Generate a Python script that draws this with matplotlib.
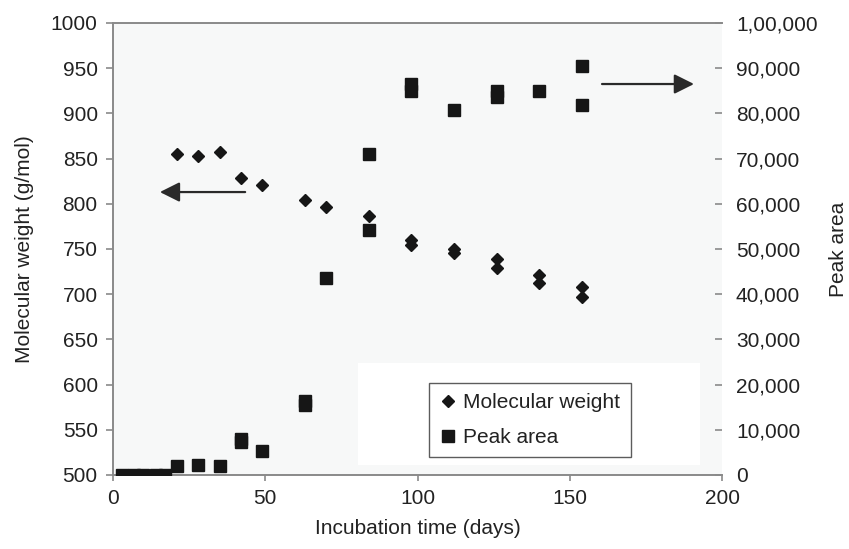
import matplotlib
matplotlib.use("Agg")
import matplotlib.pyplot as plt
from matplotlib.ticker import FuncFormatter, MultipleLocator
from matplotlib.patches import Rectangle

# ---- data ----
mw_days = [21, 28, 35, 42, 49, 63, 70, 84, 98, 98, 112, 112, 126, 126, 140, 140, 154, 154]
mw_vals = [855, 853, 857, 828, 821, 804, 797, 787, 760, 754, 750, 746, 739, 729, 721, 712, 708, 697]

pa_days = [3, 7, 10, 14, 17, 21, 28, 35, 42, 42, 49, 63, 63, 70, 84, 84,
           98, 98, 112, 126, 126, 140, 154, 154]
pa_vals = [0, 0, 0, 0, 0, 2000, 2200, 2000, 8000, 7200, 5400, 16300, 15500, 43600, 71000, 54200,
           86400, 85000, 80700, 85000, 83600, 85000, 90500, 81900]

x_label = "Incubation time (days)"
y_label_left = "Molecular weight (g/mol)"
y_label_right = "Peak area"
series_names = ["Molecular weight", "Peak area"]

plt.rcParams['font.family'] = ['Liberation Sans', 'DejaVu Sans']
FS = 15
TXT = '#222222'
SP = '#8a8a8a'

def indian_fmt(v, pos=None):
    n = int(round(v))
    s = str(abs(n))
    if len(s) > 3:
        head, tail = s[:-3], s[-3:]
        groups = []
        while len(head) > 2:
            groups.insert(0, head[-2:])
            head = head[:-2]
        if head:
            groups.insert(0, head)
        s = ",".join(groups + [tail])
    return ("-" if n < 0 else "") + s

fig = plt.figure(figsize=(8.49, 5.49), dpi=100)
ax = fig.add_axes([113/849, 1 - 475/549, 609/849, 452/549])
ax.set_facecolor('#f7f8f8')

# white patch behind legend
ax.add_patch(Rectangle(((358-113)/609, (475-465)/452), (700-358)/609, (465-363)/452,
                       transform=ax.transAxes, facecolor='white', edgecolor='none', zorder=0.5))

ax.set_xlim(0, 200)
ax.set_ylim(500, 1000)
ax.xaxis.set_major_locator(MultipleLocator(50))
ax.yaxis.set_major_locator(MultipleLocator(50))

ax.spines['right'].set_visible(False)
for side in ['left', 'top', 'bottom']:
    ax.spines[side].set_color(SP)
    ax.spines[side].set_linewidth(1.4)

ax.tick_params(axis='y', direction='out', length=5, width=1.2, color=SP,
               labelsize=FS, labelcolor=TXT, pad=6)
ax.tick_params(axis='x', direction='out', length=4, width=1.2, color=SP,
               labelsize=FS, labelcolor=TXT, pad=6)

l1, = ax.plot(mw_days, mw_vals, linestyle='none', marker='D', markersize=6.0,
              color='#161616', label=series_names[0], zorder=3)

ax2 = ax.twinx()
ax2.set_ylim(0, 100000)
ax2.yaxis.set_major_locator(MultipleLocator(10000))
ax2.yaxis.set_major_formatter(FuncFormatter(indian_fmt))
for side in ['left', 'right', 'top', 'bottom']:
    ax2.spines[side].set_visible(False)
ax2.tick_params(axis='y', direction='in', length=5, width=1.2, color=SP,
                labelsize=FS, labelcolor=TXT, pad=10)

l2, = ax2.plot(pa_days, pa_vals, linestyle='none', marker='s', markersize=8.6,
               color='#161616', label=series_names[1], zorder=3)

ax.set_xlabel(x_label, fontsize=FS, color=TXT, labelpad=8)
ax.set_ylabel(y_label_left, fontsize=FS, color=TXT, labelpad=12)
ax2.set_ylabel(y_label_right, fontsize=FS, color=TXT, labelpad=8)

# arrows
arrow_kw = dict(arrowstyle='-|>,head_length=1.2,head_width=0.6', color='#2a2a2a',
                lw=1.6, shrinkA=0, shrinkB=0, mutation_scale=10)
ax.annotate('', xy=(0.077, 0.626), xytext=(0.217, 0.626), xycoords='axes fraction',
            textcoords='axes fraction', arrowprops=arrow_kw)
ax.annotate('', xy=(0.954, 0.865), xytext=(0.803, 0.865), xycoords='axes fraction',
            textcoords='axes fraction', arrowprops=arrow_kw)

leg = ax2.legend(handles=[l1, l2], loc='upper left',
                 bbox_to_anchor=((429-113)/609, (475-383)/452),
                 bbox_transform=ax.transAxes, frameon=True, fancybox=False,
                 fontsize=FS, handlelength=0.8, handletextpad=0.35,
                 borderpad=0.5, labelspacing=0.75, borderaxespad=0)
leg.get_frame().set_edgecolor('#333333')
leg.get_frame().set_linewidth(1.0)
for t in leg.get_texts():
    t.set_color(TXT)

fig.savefig('out.png', dpi=100)
